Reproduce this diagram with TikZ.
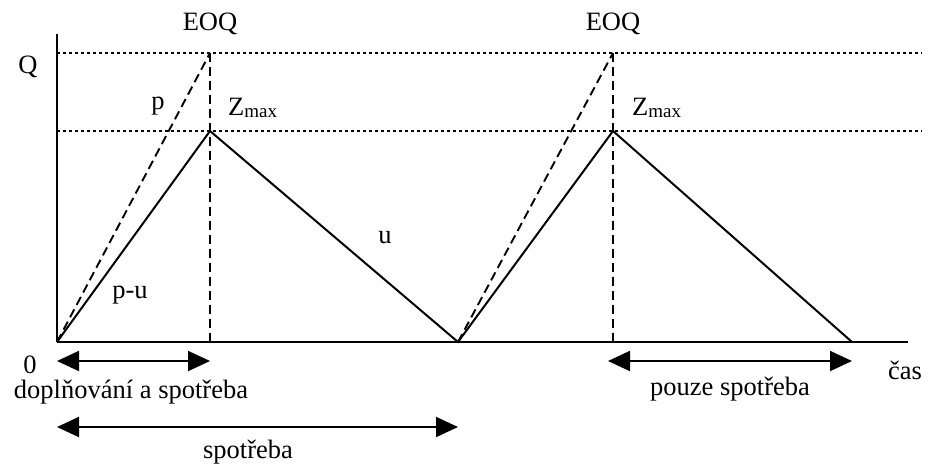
\documentclass[tikz,border=0pt]{standalone}
\usepackage{fontspec}
\setmainfont{Liberation Serif}
\usetikzlibrary{arrows.meta}
\begin{document}
\begin{tikzpicture}[x=1pt,y=-1pt,
  lbl/.style={inner sep=0pt,font=\fontsize{26.5}{30}\selectfont},
  axisline/.style={line width=2.2pt},
  curve/.style={line width=2pt},
  guide/.style={line width=1.8pt,dash pattern=on 3pt off 3pt},
  helper/.style={line width=1.9pt,dash pattern=on 9pt off 5pt},
  span/.style={line width=1.9pt,{Triangle[length=22pt,width=20pt]}-{Triangle[length=22pt,width=20pt]}}]
\useasboundingbox (0,0) rectangle (936,463);
% key points
\coordinate (O) at (57,342);
\coordinate (Ytop) at (57,34);
\coordinate (Xend) at (908,342);
\coordinate (A) at (210,131);
\coordinate (Atop) at (210,53);
\coordinate (Abot) at (210,342);
\coordinate (B) at (458,342);
\coordinate (C) at (613,131);
\coordinate (Ctop) at (613,53);
\coordinate (Cbot) at (613,342);
\coordinate (D) at (852,342);
\coordinate (QL) at (57,53);
\coordinate (QR) at (922,53);
\coordinate (ZL) at (57,131);
\coordinate (ZR) at (922,131);
% guides
\draw[guide] (QL) -- (QR);
\draw[guide] (ZL) -- (ZR);
% axes
\draw[axisline] (O) -- (Ytop);
\draw[axisline] (O) -- (Xend);
% dashed helpers
\draw[helper] (O) -- (Atop);
\draw[helper] (Atop) -- (Abot);
\draw[helper] (B) -- (Ctop);
\draw[helper] (Ctop) -- (Cbot);
% stock curve
\draw[curve,line join=miter] (O) -- (A) -- (B) -- (C) -- (D);
% span arrows
\coordinate (s1a) at (57,361);
\coordinate (s1b) at (210,361);
\coordinate (s2a) at (57,427);
\coordinate (s2b) at (458,427);
\coordinate (s3a) at (608,361);
\coordinate (s3b) at (852,361);
\draw[span] (s1a) -- (s1b);
\draw[span] (s2a) -- (s2b);
\draw[span] (s3a) -- (s3b);
% labels
\node[lbl] (eoq1) at (210,24) {EOQ};
\node[lbl] (eoq2) at (613,24) {EOQ};
\node[lbl] (q) at (28,67) {Q};
\node[lbl] (p) at (158,106) {p};
\node[lbl,anchor=base west] (z1) at (228,115) {Z\raisebox{-2pt}{\fontsize{19}{19}\selectfont max}};
\node[lbl,anchor=base west] (z2) at (632,115) {Z\raisebox{-2pt}{\fontsize{19}{19}\selectfont max}};
\node[lbl] (pu) at (130,295) {p-u};
\node[lbl] (u) at (385,238) {u};
\node[lbl,anchor=base] (zero) at (30,373) {0};
\node[lbl] (cas) at (905,370) {čas};
\node[lbl] (l1) at (131,392) {doplňování a spotřeba};
\node[lbl] (l2) at (248,452) {spotřeba};
\node[lbl] (l3) at (730,389) {pouze spotřeba};
\end{tikzpicture}
\end{document}
